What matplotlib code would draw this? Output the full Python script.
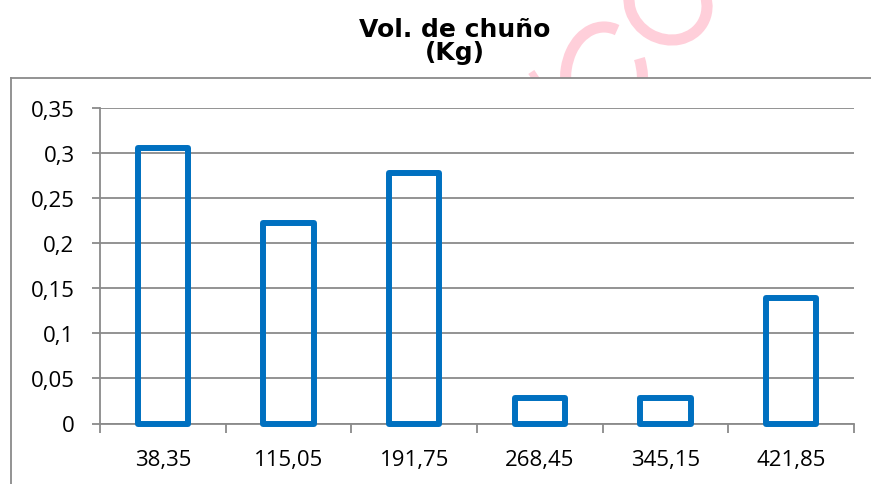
import matplotlib
matplotlib.use("Agg")
import matplotlib.pyplot as plt
from matplotlib.patches import Arc, Ellipse
from matplotlib.lines import Line2D
import numpy as np

# Data
categories = ["38,35", "115,05", "191,75", "268,45", "345,15", "421,85"]
volumes = [0.3056, 0.2222, 0.2778, 0.0278, 0.0278, 0.1389]
y_ticks = [0, 0.05, 0.10, 0.15, 0.20, 0.25, 0.30, 0.35]
y_tick_labels = ["0", "0,05", "0,1", "0,15", "0,2", "0,25", "0,3", "0,35"]
title_lines = ["Vol. de chuño", "(Kg)"]

W, H = 871, 485
grey = "#8a8a8a"
blue = "#0070C0"
pink = "#FFCFDA"

fig = plt.figure(figsize=(W / 100, H / 100), dpi=100)
fig.patch.set_facecolor("white")

# pink watermark strokes, visible only above the chart frame
wm = fig.add_axes([0, (H - 79) / H, 1, 79 / H], zorder=0)
wm.set_xlim(0, W)
wm.set_ylim(79, 0)
wm.axis("off")
wm.add_patch(Ellipse((668, 4), 80, 72, angle=30, fill=False, ec=pink, lw=8))
wm.add_patch(Arc((604, 80), 77, 104, theta1=-30, theta2=285, ec=pink, lw=8))
wm.plot([531, 537], [79, 75], color=pink, lw=7, solid_capstyle="butt")

# chart frame (top and left edges)
fy = (H - 79) / H
fig.add_artist(Line2D([11 / W, 1], [fy, fy], transform=fig.transFigure,
                      color=grey, lw=1.3))
fig.add_artist(Line2D([11 / W, 11 / W], [0, fy], transform=fig.transFigure,
                      color=grey, lw=1.3))

# title
fig.text(455 / W, (H - 37) / H, title_lines[0], ha="center", va="baseline",
         fontsize=18, fontweight="bold", family="DejaVu Sans")
fig.text(455 / W, (H - 60) / H, title_lines[1], ha="center", va="baseline",
         fontsize=18, fontweight="bold", family="DejaVu Sans")

# plot area
ax = fig.add_axes([100 / W, (H - 424.5) / H, 754 / W, 315.5 / H], zorder=1)
ax.set_facecolor("none")
x = np.arange(len(categories))
ax.bar(x, volumes, width=0.4, fill=False, edgecolor=blue, linewidth=4.3,
       joinstyle="round", clip_on=False, zorder=3)

ax.set_xlim(-0.5, len(categories) - 0.5)
ax.set_ylim(0, 0.35)
ax.set_yticks(y_ticks, y_tick_labels)
ax.set_xticks(x, categories)
ax.set_xticks(np.arange(-0.5, len(categories), 1), minor=True)

ax.tick_params(axis="x", which="major", length=0, pad=18.5,
               labelsize=16, labelfontfamily="Open Sans")
ax.tick_params(axis="x", which="minor", length=6.5, width=1.3, color=grey)
ax.tick_params(axis="y", length=5.8, width=1.3, color=grey, pad=12.5,
               labelsize=16, labelfontfamily="Open Sans")

ax.yaxis.grid(True, color=grey, lw=1.3)
ax.set_axisbelow(True)
for side in ("top", "right"):
    ax.spines[side].set_visible(False)
for side in ("left", "bottom"):
    ax.spines[side].set_color(grey)
    ax.spines[side].set_linewidth(1.3)

fig.savefig("out.png", dpi=100)
